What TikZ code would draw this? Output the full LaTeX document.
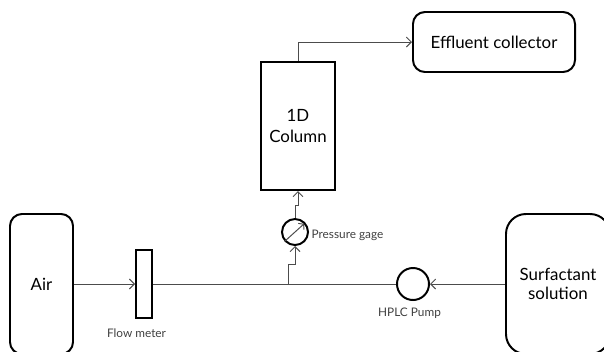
\documentclass[tikz,border=0pt]{standalone}
\usepackage{fontspec}
\setmainfont{Lato}
\usetikzlibrary{arrows.meta}

\tikzset{
  vessel/.style={draw, line width=1.4pt, rounded corners=.3cm, align=center, font=\fontsize{12}{13.5}\selectfont},
  unit/.style={draw, line width=1.4pt, rectangle, align=center, font=\fontsize{12}{14.5}\selectfont},
  dial/.style={draw, line width=1.4pt, circle, inner sep=0pt},
  tag/.style={font=\fontsize{8.4}{10}\selectfont, text=black!75},
  pipe/.style={line width=.7pt, draw=black!70},
}

\begin{document}
\begin{tikzpicture}[x=.025cm,y=-.025cm,>={Straight Barb[length=3.5pt,width=7pt]}]
  \useasboundingbox (0,0) rectangle (604,351);
  \node (air) [vessel, minimum width=1.575cm, minimum height=3.5cm] at (41.5,284) {Air};
  \node (meter) [unit, minimum width=.4cm, minimum height=1.72cm] at (144,284) {};
  \node (pump) [dial, minimum size=.8cm] at (413,284) {};
  \node (solution) [vessel, rounded corners=.5cm, minimum width=2.6cm, minimum height=3.5cm] at (558,284) {};
  \node (gage) [dial, minimum size=.65cm] at (295,232) {};
  \node (column) [unit, minimum width=1.85cm, minimum height=3.2cm] at (298,126) {1D\\Column};
  \node (collector) [vessel, minimum width=4.05cm, minimum height=1.5cm] at (494,42) {Effluent collector};
  \node (solutiontext) [align=center, font=\fontsize{12}{13.5}\selectfont] at (558,284) {Surfactant\\solution};
  \node (metertag) [tag] at (136.5,333) {Flow meter};
  \node (gagetag) [tag] at (347.5,235) {Pressure gage};
  \node (pumptag) [tag] at (409.5,313) {HPLC Pump};
  \coordinate (tee) at (288,284);
  \path[pipe] (air) edge[->] (meter)
              (meter) edge (pump)
              (solution) edge[->] (pump);
  \draw[pipe,->] (tee) -- (288,264) -- (295,264) -- (gage);
  \draw[pipe,->] (gage) -- (295,205) -- (298,205) -- (column);
  \draw[pipe,->] (column) |- (collector);
  \draw[pipe,->,>={Straight Barb[length=2.5pt,width=6pt]},shorten >=1.2pt] (gage.222) -- (gage.42);
\end{tikzpicture}
\end{document}
